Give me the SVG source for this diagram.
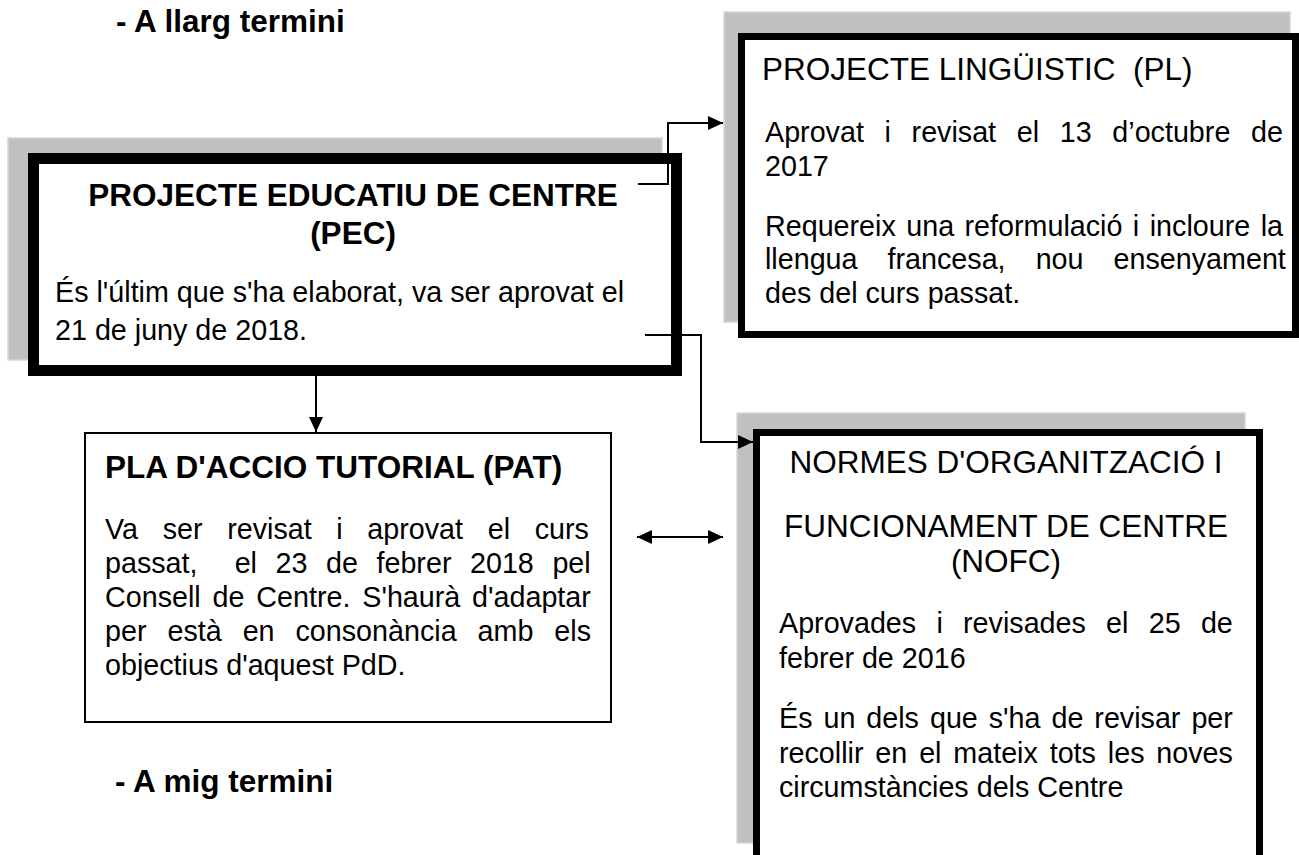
<svg xmlns="http://www.w3.org/2000/svg" width="1299" height="855" viewBox="0 0 1299 855">
<defs>
<style>
text{font-family:"Liberation Sans",Arial,sans-serif;fill:#000;white-space:pre}
.b{font-weight:bold;font-size:31.5px}
.t{font-size:31.5px}
.r{font-size:28.7px}
.shadow{fill:#c0c0c0;stroke:#d6d6d6;stroke-width:1.5}
.frame{fill:#fff;stroke:#000}
.ln{fill:none;stroke:#000;stroke-width:2}
</style>
<marker id="ah" viewBox="0 0 15 14" refX="15" refY="7" markerWidth="15" markerHeight="14" markerUnits="userSpaceOnUse" orient="auto-start-reverse">
<path d="M0,0 L15,7 L0,14 Z" fill="#000"/>
</marker>
</defs>
<rect width="1299" height="855" fill="#fff"/>

<g id="label-llarg"><text class="b" x="116" y="32">- A llarg termini</text></g>
<g id="label-mig"><text class="b" x="115" y="792">- A mig termini</text></g>

<g id="node-pec">
<rect class="shadow" x="8" y="138" width="654" height="222"/>
<rect class="frame" x="33.5" y="158.5" width="643" height="212" stroke-width="11"/>
<text class="b" x="353" y="206" text-anchor="middle">PROJECTE EDUCATIU DE CENTRE</text>
<text class="b" x="353" y="244" text-anchor="middle">(PEC)</text>
<text class="r" x="55" y="302" font-size="29.3">És l'últim que s'ha elaborat, va ser aprovat el</text>
<text class="r" x="55" y="340" font-size="29.3">21 de juny de 2018.</text>
</g>

<g id="node-pl">
<rect class="shadow" x="724" y="12" width="566" height="310"/>
<rect class="frame" x="741.5" y="36.5" width="554" height="298" stroke-width="7"/>
<text class="t" x="762" y="80">PROJECTE LINGÜISTIC  (PL)</text>
<text class="r" x="765" y="142" word-spacing="12.7">Aprovat i revisat el 13 d’octubre de</text>
<text class="r" x="765" y="176">2017</text>
<text class="r" x="765" y="236" word-spacing="2.5">Requereix una reformulació i incloure la</text>
<text class="r" x="765" y="269" word-spacing="22.1">llengua francesa, nou ensenyament</text>
<text class="r" x="765" y="303">des del curs passat.</text>
</g>

<g id="node-pat">
<rect x="85" y="433" width="526" height="289" fill="#fff" stroke="#000" stroke-width="2"/>
<text class="b" x="105" y="478">PLA D'ACCIO TUTORIAL (PAT)</text>
<text class="r" x="105" y="539" word-spacing="16.7">Va ser revisat i aprovat el curs</text>
<text class="r" x="105" y="573" word-spacing="10.6">passat,  el 23 de febrer 2018 pel</text>
<text class="r" x="105" y="607" word-spacing="3.9">Consell de Centre. S'haurà d'adaptar</text>
<text class="r" x="105" y="641" word-spacing="13">per està en consonància amb els</text>
<text class="r" x="105" y="675">objectius d'aquest PdD.</text>
</g>

<g id="node-nofc">
<rect class="shadow" x="737" y="413" width="508" height="430"/>
<rect class="frame" x="756.5" y="432.5" width="503" height="440" stroke-width="7"/>
<text class="t" x="1006" y="473" text-anchor="middle">NORMES D'ORGANITZACIÓ I</text>
<text class="t" x="1006" y="537" text-anchor="middle">FUNCIONAMENT DE CENTRE</text>
<text class="t" x="1006" y="572" text-anchor="middle">(NOFC)</text>
<text class="r" x="779" y="633" word-spacing="12.3">Aprovades i revisades el 25 de</text>
<text class="r" x="779" y="668">febrer de 2016</text>
<text class="r" x="779" y="728" word-spacing="3">És un dels que s'ha de revisar per</text>
<text class="r" x="779" y="763" word-spacing="3.9">recollir en el mateix tots les noves</text>
<text class="r" x="779" y="797">circumstàncies dels Centre</text>
</g>

<g id="connectors">
<path class="ln" d="M638,184 H668 V123 H723" marker-end="url(#ah)"/>
<path class="ln" d="M645,335 H701 V442 H753" marker-end="url(#ah)"/>
<path class="ln" d="M316,376 V432" marker-end="url(#ah)"/>
<path class="ln" d="M637,537 H723" marker-start="url(#ah)" marker-end="url(#ah)"/>
</g>
</svg>
